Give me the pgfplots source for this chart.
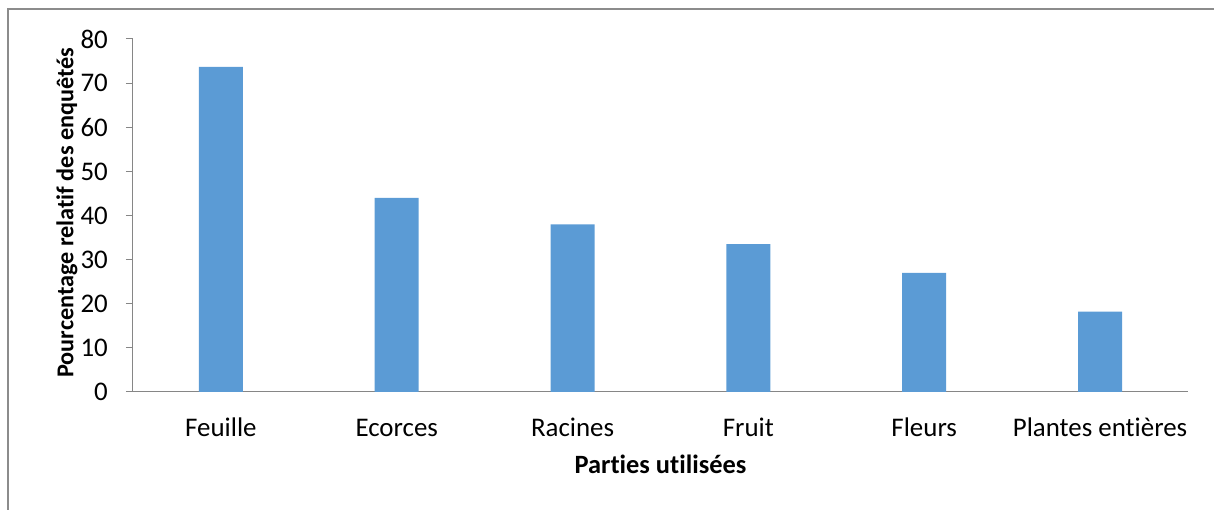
\documentclass[border=0pt]{standalone}
\usepackage{pgfplots}
\pgfplotsset{compat=1.18}
\usepackage{fontspec}
\setmainfont{Carlito}[Ligatures=NoCommon]
\definecolor{barblue}{HTML}{5B9BD5}
\definecolor{axgray}{HTML}{868686}
\definecolor{framegray}{HTML}{8C8C8C}
\begin{document}
\begin{tikzpicture}[x=1bp,y=1bp]
\useasboundingbox (-133,-118) rectangle (1081,392);
\draw[framegray, line width=1.5bp] (-125,-120) -- (-125,383) -- (1085,383);
\begin{axis}[
  at={(0,0)}, anchor=south west,
  scale only axis,
  width=1055bp, height=353bp,
  xmin=-0.5, xmax=5.5,
  ymin=0, ymax=80,
  ytick={0,10,...,80},
  xtick={0,...,5},
  xticklabels={Feuille,Ecorces,Racines,Fruit,Fleurs,Plantes entières},
  axis x line*=bottom,
  axis y line*=left,
  axis line style={axgray, line width=1bp, -},
  x axis line style={-},
  y axis line style={-},
  major x tick style={draw=none},
  major y tick style={axgray, line width=1bp},
  tick align=outside,
  major tick length=7bp,
  /pgf/number format/assume math mode=true,
  tick label style={font=\fontsize{27}{32}\selectfont, text=black},
  xticklabel style={anchor=base, yshift=-38bp},
  yticklabel style={anchor=east, inner sep=0pt, xshift=-18bp},
  xlabel={\textbf{Parties utilisées}},
  ylabel={\textbf{Pourcentage relatif des enquêtés}},
  xlabel style={font=\fontsize{26.5}{32}\selectfont, at={(axis description cs:0.5,-0.2323)}, anchor=base},
  ylabel style={font=\fontsize{24.3}{30}\selectfont, at={(axis description cs:-0.0626,0.508)}, anchor=center},
  ybar, bar width=44bp,
  clip=false,
]
\addplot[fill=barblue, draw=none] coordinates {(0,73.7) (1,44.0) (2,38.0) (3,33.5) (4,27.0) (5,18.2)};
\end{axis}
\end{tikzpicture}
\end{document}
